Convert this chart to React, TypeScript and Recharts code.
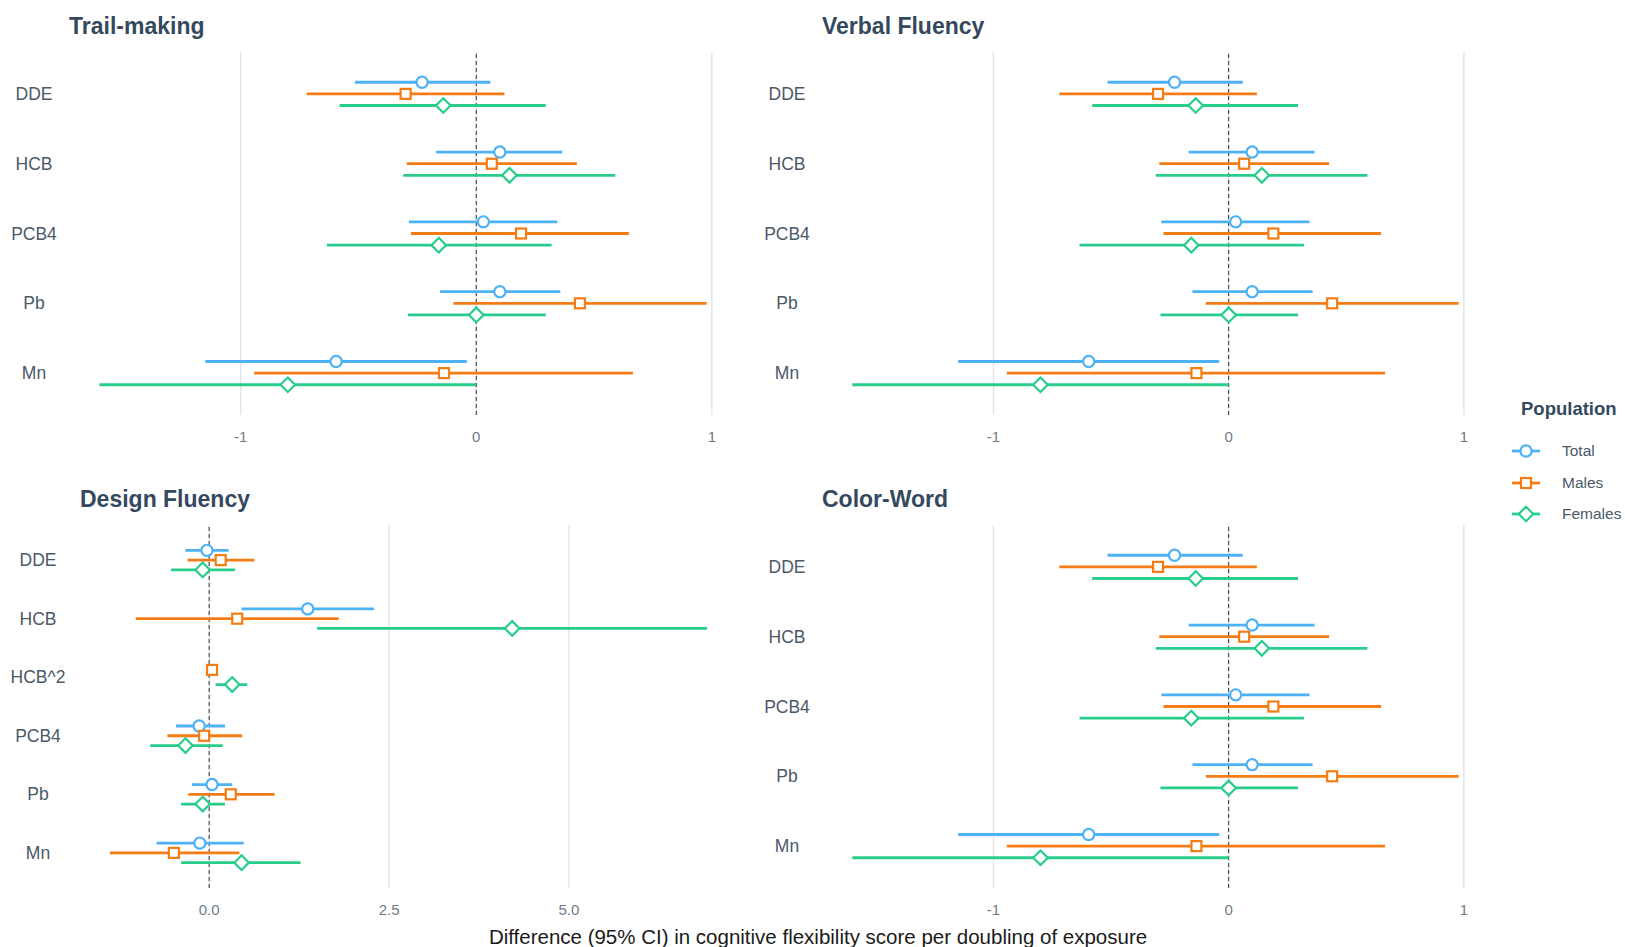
import React from "react";
import {
  ScatterChart,
  Scatter,
  XAxis,
  YAxis,
  ReferenceLine,
  ErrorBar,
} from "recharts";

// exposures in top-to-bottom order
const exposures = ["DDE", "HCB", "PCB4", "Pb", "Mn"];
const designExposures = ["DDE", "HCB", "HCB^2", "PCB4", "Pb", "Mn"];

// Trail-making, Verbal Fluency and Color-Word share these estimates
const totalEst = [-0.23, 0.1, 0.03, 0.1, -0.595];
const totalLo = [-0.515, -0.17, -0.286, -0.154, -1.15];
const totalHi = [0.06, 0.365, 0.344, 0.357, -0.04];
const malesEst = [-0.3, 0.066, 0.19, 0.44, -0.137];
const malesLo = [-0.72, -0.295, -0.277, -0.097, -0.943];
const malesHi = [0.12, 0.427, 0.648, 0.978, 0.665];
const femalesEst = [-0.14, 0.141, -0.159, 0.0, -0.8];
const femalesLo = [-0.58, -0.31, -0.634, -0.29, -1.6];
const femalesHi = [0.295, 0.59, 0.32, 0.295, 0.0];

// Design Fluency (no total estimate for HCB^2)
const designTotalEst = [-0.03, 1.37, null, -0.14, 0.04, -0.13];
const designTotalLo = [-0.33, 0.45, null, -0.46, -0.24, -0.73];
const designTotalHi = [0.27, 2.29, null, 0.22, 0.32, 0.48];
const designMalesEst = [0.16, 0.39, 0.04, -0.07, 0.3, -0.49];
const designMalesLo = [-0.3, -1.02, 0.02, -0.58, -0.29, -1.38];
const designMalesHi = [0.63, 1.8, 0.06, 0.46, 0.91, 0.42];
const designFemalesEst = [-0.09, 4.21, 0.32, -0.33, -0.09, 0.45];
const designFemalesLo = [-0.53, 1.5, 0.09, -0.82, -0.39, -0.39];
const designFemalesHi = [0.36, 6.92, 0.53, 0.19, 0.22, 1.27];

const unitTicks = [-1, 0, 1];
const designTicks = [0, 2.5, 5];

const populations = ["Total", "Males", "Females"];
const COLORS: Record<string, string> = {
  Total: "#4db2f5",
  Males: "#f57c14",
  Females: "#28cd8c",
};
const SHAPES: Record<string, string> = {
  Total: "circle",
  Males: "square",
  Females: "diamond",
};

const FONT = "'Liberation Sans', Arial, Helvetica, sans-serif";
const TITLE_COLOR = "#34495e";
const LABEL_COLOR = "#4b5968";
const LINE_WIDTH = 2.8;

type Series = {
  name: string;
  est: (number | null)[];
  lo: (number | null)[];
  hi: (number | null)[];
};

const Marker = ({ cx, cy, kind, color }: any) => {
  if (cx == null || cy == null) return null;
  const common = { fill: "#fff", stroke: color, strokeWidth: 2.2 };
  if (kind === "square")
    return <rect x={cx - 5} y={cy - 5} width={10} height={10} {...common} />;
  if (kind === "diamond")
    return (
      <polygon
        points={`${cx},${cy - 7.3} ${cx + 7.3},${cy} ${cx},${cy + 7.3} ${cx - 7.3},${cy}`}
        {...common}
      />
    );
  return <circle cx={cx} cy={cy} r={5.6} {...common} />;
};

// dodge the populations around each exposure, like position_dodge(0.5)
function buildPoints(series: Series[], categories: string[]) {
  return series.map((s) => {
    const pts: any[] = [];
    categories.forEach((_, i) => {
      const v = s.est[i];
      if (v == null) return;
      const present = series.filter((o) => o.est[i] != null);
      const n = present.length;
      const idx = present.indexOf(s);
      const offset = ((idx - (n - 1) / 2) * 0.5) / n;
      pts.push({
        x: v,
        y: i + 1 + offset,
        err: [v - (s.lo[i] as number), (s.hi[i] as number) - v],
      });
    });
    return { name: s.name, points: pts };
  });
}

function paddedDomain(series: Series[]): [number, number] {
  const vals: number[] = [];
  series.forEach((s) => {
    s.lo.forEach((v) => v != null && vals.push(v));
    s.hi.forEach((v) => v != null && vals.push(v));
  });
  const min = Math.min(...vals);
  const max = Math.max(...vals);
  const pad = (max - min) * 0.05;
  return [min - pad, max + pad];
}

type PanelProps = {
  title: string;
  categories: string[];
  series: Series[];
  ticks: number[];
  tickFormat: (v: number) => string;
  left: number;
  top: number;
  width: number;
  axisWidth: number;
  labelX: number;
};

const Panel: React.FC<PanelProps> = ({
  title,
  categories,
  series,
  ticks,
  tickFormat,
  left,
  top,
  width,
  axisWidth,
  labelX,
}) => {
  const groups = buildPoints(series, categories);
  const domain = paddedDomain(series);
  const catTicks = categories.map((_, i) => i + 1);
  return (
    <div style={{ position: "absolute", left, top, width, height: 405 }}>
      <div
        style={{
          position: "absolute",
          left: axisWidth,
          top: -27,
          fontSize: 23,
          fontWeight: 700,
          color: TITLE_COLOR,
          whiteSpace: "nowrap",
        }}
      >
        {title}
      </div>
      <ScatterChart
        width={width}
        height={405}
        margin={{ top: 12, right: 23, bottom: 0, left: 0 }}
      >
        <XAxis
          type="number"
          dataKey="x"
          domain={domain}
          ticks={ticks}
          tickFormatter={tickFormat}
          allowDataOverflow
          axisLine={false}
          tickLine={false}
          tickMargin={10}
          height={30}
          tick={{ fill: "#6f7b88", fontSize: 15, fontFamily: FONT }}
        />
        <YAxis
          type="number"
          dataKey="y"
          domain={[0.4, categories.length + 0.6]}
          ticks={catTicks}
          reversed
          allowDataOverflow
          axisLine={false}
          tickLine={false}
          width={axisWidth}
          tick={(p: any) => (
            <text
              x={labelX}
              y={p.y}
              dy="0.35em"
              textAnchor="middle"
              fill={LABEL_COLOR}
              fontSize={17.5}
              fontFamily={FONT}
            >
              {categories[p.payload.value - 1]}
            </text>
          )}
        />
        {/* vertical major grid lines */}
        {ticks.map((t) => (
          <ReferenceLine key={`grid-${t}`} x={t} stroke="#e4e4e4" strokeWidth={1.4} />
        ))}
        <ReferenceLine x={0} stroke="#333" strokeDasharray="4 3" strokeWidth={1} />
        {groups.map((g) => (
          <Scatter
            key={g.name}
            name={g.name}
            data={g.points}
            isAnimationActive={false}
            shape={(p: any) => (
              <Marker cx={p.cx} cy={p.cy} kind={SHAPES[g.name]} color={COLORS[g.name]} />
            )}
          >
            <ErrorBar
              dataKey="err"
              direction="x"
              width={0}
              stroke={COLORS[g.name]}
              strokeWidth={LINE_WIDTH}
              isAnimationActive={false}
            />
          </Scatter>
        ))}
      </ScatterChart>
    </div>
  );
};

const mainSeries: Series[] = [
  { name: "Total", est: totalEst, lo: totalLo, hi: totalHi },
  { name: "Males", est: malesEst, lo: malesLo, hi: malesHi },
  { name: "Females", est: femalesEst, lo: femalesLo, hi: femalesHi },
];

const designSeries: Series[] = [
  { name: "Total", est: designTotalEst, lo: designTotalLo, hi: designTotalHi },
  { name: "Males", est: designMalesEst, lo: designMalesLo, hi: designMalesHi },
  { name: "Females", est: designFemalesEst, lo: designFemalesLo, hi: designFemalesHi },
];

const intFormat = (v: number) => String(v);
const oneDecimal = (v: number) => v.toFixed(1);

const Legend = () => (
  <div style={{ position: "absolute", left: 1511, top: 398 }}>
    <div style={{ marginLeft: 10, fontSize: 18.5, fontWeight: 700, color: TITLE_COLOR }}>
      Population
    </div>
    {populations.map((p, i) => (
      <div
        key={p}
        style={{ position: "absolute", top: 43 + i * 31.5, left: 0, display: "flex", alignItems: "center" }}
      >
        <svg width={30} height={20}>
          <line x1={1} x2={29} y1={10} y2={10} stroke={COLORS[p]} strokeWidth={LINE_WIDTH} />
          <Marker cx={15} cy={10} kind={SHAPES[p]} color={COLORS[p]} />
        </svg>
        <span style={{ marginLeft: 21, fontSize: 15.5, color: LABEL_COLOR }}>{p}</span>
      </div>
    ))}
  </div>
);

export default function App() {
  return (
    <div
      style={{
        position: "absolute",
        left: 0,
        top: 0,
        width: 1625,
        height: 947,
        background: "#fff",
        fontFamily: FONT,
        overflow: "hidden",
      }}
    >
      <Panel
        title="Trail-making"
        categories={exposures}
        series={mainSeries}
        ticks={unitTicks}
        tickFormat={intFormat}
        left={0}
        top={40}
        width={760}
        axisWidth={69}
        labelX={34}
      />
      <Panel
        title="Verbal Fluency"
        categories={exposures}
        series={mainSeries}
        ticks={unitTicks}
        tickFormat={intFormat}
        left={760}
        top={40}
        width={752}
        axisWidth={62}
        labelX={27}
      />
      <Panel
        title="Design Fluency"
        categories={designExposures}
        series={designSeries}
        ticks={designTicks}
        tickFormat={oneDecimal}
        left={0}
        top={513}
        width={760}
        axisWidth={80}
        labelX={38}
      />
      <Panel
        title="Color-Word"
        categories={exposures}
        series={mainSeries}
        ticks={unitTicks}
        tickFormat={intFormat}
        left={760}
        top={513}
        width={752}
        axisWidth={62}
        labelX={27}
      />
      <Legend />
      <div
        style={{
          position: "absolute",
          left: 368,
          width: 900,
          top: 925,
          textAlign: "center",
          fontSize: 20.5,
          color: "#1a1a1a",
        }}
      >
        Difference (95% CI) in cognitive flexibility score per doubling of exposure
      </div>
    </div>
  );
}
